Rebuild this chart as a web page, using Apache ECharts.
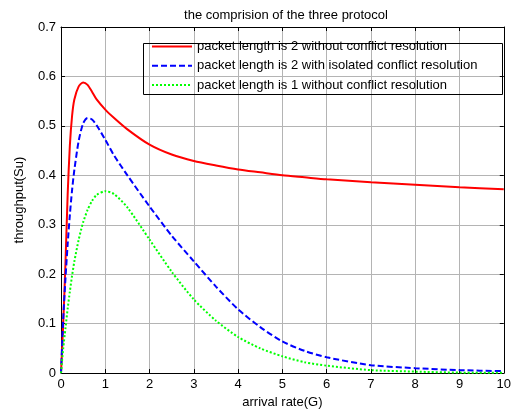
<!DOCTYPE html>
<html>
<head>
<meta charset="utf-8">
<script src="https://cdn.jsdelivr.net/npm/echarts@6/dist/echarts.min.js"></script>
<style>
  html, body { margin: 0; padding: 0; background: #fff; }
  #chart { width: 514px; height: 414px; }
</style>
</head>
<body>
<div id="chart"></div>
<script>
// arrival rate G (x values shared by the three curves)
const arrivalRate = [0, 0.05, 0.1, 0.15, 0.2, 0.25, 0.3, 0.4, 0.5, 0.6, 0.7, 0.8, 1.0, 1.2, 1.5, 2.0, 2.5, 3.0, 3.5, 4.0, 4.5, 5.0, 5.5, 6.0, 7.0, 8.0, 9.0, 10.0];

// packet length is 2 without conflict resolution
const len2NoResolution = [0, 0.10, 0.22, 0.36, 0.46, 0.52, 0.553, 0.58, 0.588, 0.583, 0.569, 0.554, 0.533, 0.516, 0.493, 0.462, 0.442, 0.429, 0.42, 0.412, 0.406, 0.400, 0.396, 0.392, 0.386, 0.381, 0.376, 0.372];

// packet length is 2 with isolated conflict resolution
const len2Isolated = [0, 0.11, 0.19, 0.26, 0.32, 0.37, 0.41, 0.47, 0.505, 0.516, 0.513, 0.502, 0.472, 0.44, 0.40, 0.337, 0.278, 0.226, 0.175, 0.129, 0.093, 0.064, 0.045, 0.032, 0.016, 0.010, 0.006, 0.004];

// packet length is 1 without conflict resolution
const len1NoResolution = [0, 0.05, 0.09, 0.13, 0.165, 0.197, 0.225, 0.27, 0.305, 0.33, 0.348, 0.36, 0.368, 0.362, 0.335, 0.27, 0.205, 0.149, 0.106, 0.073, 0.05, 0.034, 0.022, 0.015, 0.006, 0.003, 0.001, 0.0005];

const seriesNames = [
  'packet length is 2 without conflict resolution',
  'packet length is 2 with isolated conflict resolution',
  'packet length is 1 without conflict resolution'
];

const toPairs = (ys) => arrivalRate.map((g, i) => [g, ys[i]]);

const chart = echarts.init(document.getElementById('chart'));

const font = 'Liberation Sans, Arial, sans-serif';
const gridLine = { show: true, lineStyle: { color: '#b4b4b4', width: 1 } };
const tick = { show: true, inside: true, length: 4, lineStyle: { color: '#000' } };

const option = {
  backgroundColor: '#fff',
  animation: false,
  title: {
    text: 'the comprision of the three protocol',
    left: 281,
    top: 4,
    textAlign: 'center',
    textStyle: { fontFamily: font, fontSize: 13, fontWeight: 'normal', color: '#000' }
  },
  legend: {
    orient: 'vertical',
    left: 151,
    top: 40,
    padding: 0,
    itemWidth: 40,
    itemHeight: 12,
    itemGap: 6.3,
    data: seriesNames,
    itemStyle: { opacity: 0 },
    textStyle: { fontFamily: font, fontSize: 13, color: '#000', lineHeight: 12 }
  },
  graphic: [{
    type: 'rect',
    shape: { x: 143.5, y: 43.5, width: 359, height: 51 },
    style: { fill: 'none', stroke: '#000', lineWidth: 1 },
    z: 100
  }],
  grid: { left: 61, right: 10, top: 27, bottom: 38 },
  xAxis: [{
    type: 'value',
    min: 0, max: 10, interval: 1,
    name: 'arrival rate(G)',
    nameLocation: 'middle',
    nameGap: 21,
    nameTextStyle: { fontFamily: font, fontSize: 13, color: '#000' },
    axisLine: { show: true, onZero: false, lineStyle: { color: '#000', width: 1 } },
    axisTick: tick,
    axisLabel: { fontFamily: font, fontSize: 13, color: '#000', margin: 5 },
    splitLine: gridLine
  }, {
    type: 'value',
    position: 'top',
    min: 0, max: 10, interval: 1,
    axisLine: { show: true, onZero: false, lineStyle: { color: '#000', width: 1 } },
    axisTick: tick,
    axisLabel: { show: false },
    splitLine: { show: false }
  }],
  yAxis: [{
    type: 'value',
    min: 0, max: 0.7, interval: 0.1,
    name: 'throughput(Su)',
    nameLocation: 'middle',
    nameGap: 35,
    nameTextStyle: { fontFamily: font, fontSize: 13, color: '#000' },
    axisLine: { show: true, onZero: false, lineStyle: { color: '#000', width: 1 } },
    axisTick: tick,
    axisLabel: { fontFamily: font, fontSize: 13, color: '#000', margin: 5 },
    splitLine: gridLine
  }, {
    type: 'value',
    position: 'right',
    min: 0, max: 0.7, interval: 0.1,
    axisLine: { show: true, onZero: false, lineStyle: { color: '#000', width: 1 } },
    axisTick: tick,
    axisLabel: { show: false },
    splitLine: { show: false }
  }],
  series: [
    {
      name: seriesNames[0],
      type: 'line',
      data: toPairs(len2NoResolution),
      symbol: 'none',
      smooth: 0.25,
      itemStyle: { color: '#ff0000' },
      lineStyle: { color: '#ff0000', width: 2 }
    },
    {
      name: seriesNames[1],
      type: 'line',
      data: toPairs(len2Isolated),
      symbol: 'none',
      smooth: 0.25,
      itemStyle: { color: '#0000ff' },
      lineStyle: { color: '#0000ff', width: 2, type: [6, 3] }
    },
    {
      name: seriesNames[2],
      type: 'line',
      data: toPairs(len1NoResolution),
      symbol: 'none',
      smooth: 0.25,
      itemStyle: { color: '#00ff00' },
      lineStyle: { color: '#00ff00', width: 2, type: [2, 2] }
    }
  ]
};

chart.setOption(option);
</script>
</body>
</html>
